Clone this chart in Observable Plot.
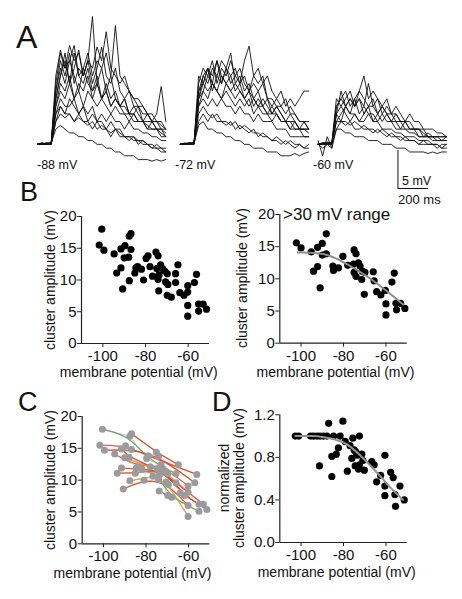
<!DOCTYPE html>
<html><head><meta charset="utf-8">
<script src="https://cdn.jsdelivr.net/npm/d3@7"></script>
<script src="https://cdn.jsdelivr.net/npm/@observablehq/plot@0.6"></script>
<style>
body{margin:0;background:#fff;}
#fig{position:relative;width:462px;height:599px;overflow:hidden;background:#fff;font-family:"Liberation Sans",Arial,sans-serif;color:#111;}
</style></head>
<body><div id="fig"></div>
<script>
// ---------- DATA ----------
// Panel A: sample times (ms) and membrane traces (mV above baseline)
const traceTimes = [0,30,60,90,120,150,180,210,240,270,300,330,360,390,420,450,480,510,540,570,600,630,660,690,720,750,780,810,840];
const tracesNeg88 = [
 [0,0.2,0,0.3,7,11,9,12,8,10,9,11,16.8,8,10,7,9,6,5,6,4,4,3,3,2.5,2,2,1.5,1],
 [0,0.1,0.2,0.1,9,12.4,10,11,13,9,10,12,9,11,10,12,9,15.6,9,8,7,6,6,5,4,3,3,2.5,2],
 [0,0,0.1,0.2,6,9,12,8,10,12.4,9,11,8,10,12.8,9,8,10,7,6,7,5,5,4,4,3,3,2,2],
 [0,0.1,0,0.2,5,8,7,9,6,8,7,9,6,8,6,7,5,6,5,5,4,4,5,3,4,3,4,7.6,3],
 [0,0,0.1,0,5,7,6,8,6,7,5,7,6,5,6,5,4,5,4,4,3,4,3,3,2,3,2,2,1.5],
 [0,0.2,0,0.1,4,6,5,5,6,4,5,4,5,3,4,3,4,3,3,2,3,2,2,1.5,1.5,1,1,0.5,0.5],
 [0,0,0.1,0.1,3,4,3.5,4,3,3.5,3,2.5,3,2,2.5,2,1.5,2,1.5,1,1,0.5,0.5,0,0,-0.5,-0.5,-1,-1],
 [0,0.1,0,0.2,2,2.5,2,1.5,1.5,1,1,0.5,0.5,0,0,-0.5,-0.5,-1,-1,-1.5,-1.5,-1.5,-2,-2,-2,-2.2,-2,-2.2,-2],
 [0,0,0.2,0.1,7,10,8,11,9,7,10,8,7,9,6,8,6,7,5,6,4,5,4,3,3,3,2,2,1],
 [0,0.1,0,0.2,6,9,11,8,12,9,8,10,7,8,6,7,5,6,5,4,4,3,3,3,2,2,2,1,1],
 [0,0,0.1,0,4,5,4,6,5,4,5,3,4,3,3,2,3,2,2,1,1,1,0.5,0.5,0,0,-0.5,-0.5,-1],
 [0,0.1,0.1,0,8,12,10,13,11,12,9,11,10,12.8,11,14.8,10,9,8,9,7,6,5,5,4,4,3,3,2],
 [0,0,0.1,0.1,3,5,4,4,3,4,3,3,2,3,2,2,1,2,1,1,0.5,1,0,0.5,0,-0.5,0,-0.5,-0.5]
];
const tracesNeg72 = [
 [0,0.1,0.2,0.1,7,9,8,10,9,11,10,9,10,8,11,12.9,9,10,8,9,7,6,7,5,6,5,6,7,7],
 [0,0,0.1,0.2,8,10,9,11,8,10,9,11,9,8,9,7,8,7,8,6,6,5,5,4,5,4,3,3,3],
 [0,0.2,0,0.1,6,8,7,8,7,6,8,7,6,7,6,5,6,5,5,4,4,4,3,3,2,3,2,2,2],
 [0,0.1,0.1,0,5,6,5,6,5,6,5,5,4,5,4,4,3,4,3,3,3,2,2,2,1,1,1,1,1],
 [0,0,0.2,0.1,4,5,4,3.5,4,3,3,2.5,3,2,2.5,2,1.5,1.5,1,1,0.5,0.5,0,0.5,0,-0.5,0,-0.5,-0.5],
 [0,0.1,0,0.1,2.5,3,2,2,1.5,1.5,1,1,0.5,0.5,0,0,-0.5,-0.5,-0.5,-1,-1,-1,-1.5,-1.5,-1.5,-1.2,-1.5,-1.2,-1],
 [0,0,0.1,0.2,7,8,10,9,11,8,10,8,9,10,8,7,9,8,9,6,5,6,5,6,4,4,3,3,2],
 [0,0.1,0.1,0,5,7,6,8,7,6,7,6,5,6,5,6,4,5,4,4,3,4,3,3,2,2,2,1,1],
 [0,0.1,0.1,0.2,6,9,10,8,11,9,8,9,7,8,6,7,5,6,5,4,5,4,3,3,3,2,2,2,1.5],
 [0,0.1,0.2,0.1,9,8,10,7,9,8,10,12,8,9,7,8,6,7,5,6,4,5,4,3,4,3,2,2,2],
 [0,0,0.1,0.1,3,4,3,4,3,3,2.5,3,2,2.5,2,1.5,2,1,1.5,1,0.5,1,0.5,0,0.5,0,0,-0.5,0],
 [0,0.1,0,0.1,6,7,9,8,7,9,8,7,8,7,6,7,6,5,6,5,4,5,4,3,3,3,2,3,2]
];
const tracesNeg60 = [
 [0,0.2,0.3,0.2,5,6,7,5,6,7,9,6,7,6,5,6,4,5,4,3,4,3,3,2,2,2,1.5,1.5,1],
 [0,0.1,0,0.2,4,7,5,6,5,6,5,8,5,6,4,5,4,4,3,3,3,2,2,2,1,1,1,1,1],
 [0,0,0.2,0.1,3,4,5,4,4,3,4,5,3,4,3,4,3,3,2,3,2,2,1,1,1,1,0.5,0.5,0.5],
 [0,0.1,0.1,0,3,3,3,2.5,3,2.5,2,2,2,1.5,2,1.5,1,1,1,0.5,0.5,0.5,0,0,0,0,-0.5,0,0],
 [0,-0.5,0,-0.5,2,2,1.5,1.5,1,1,1,0.5,0.5,0.5,0,0,0,-0.5,-0.5,-0.5,-1,-1,-1,-1,-1.2,-1,-1.2,-1,-1],
 [0,0,0.1,0.1,6,5,6,7,5,6,4,5,6,4,5,4,4,3,3,3,2,2,2,1.5,1,1,1,1,1],
 [0.5,-1.5,1,-0.5,4,5,4,3,4,3,3,4,3,3,2,2,2,1.5,1.5,1,1,1,0.5,0.5,0.5,0,0,-0.5,-0.5],
 [0,0.2,0,0.1,4,3,5,4,6,4,5,4,4,3,4,3,3,2,2,2,1.5,1.5,1,1,1,0.5,0.5,0.5,0.5],
 [0,0,0.2,0,5,6,5,6,5,7,6,5,5,4,5,4,3,4,3,2,2,2,2,1,1.5,1,1,0.5,1],
 [0,0.1,0,0.1,2,3,2.5,3,2,2,2.5,2,1.5,2,1.5,1,1.5,1,0.5,1,0.5,0.5,0,0.5,0,0,0,-0.5,0]
];
const holdingLabels = ["-88 mV","-72 mV","-60 mV"];

// Panel B (left) and C: all cells
const vmAll  = [-100.5,-101.7,-99.5,-94.7,-91.5,-89.6,-87.6,-86.8,-86.8,-90,-87.9,-91.5,-93.5,-90.7,-87.6,-84.5,-83.7,-85,-81.9,-80.9,-79.7,-78.8,-77.9,-76.7,-75.1,-74.1,-74.7,-73.7,-74.1,-72.9,-72,-71,-69.8,-70.6,-69.5,-73.8,-69.8,-67.9,-65.9,-64.8,-65.9,-63.9,-62,-60.2,-60.2,-57.1,-56.1,-60.2,-60.2,-55.1,-53,-55.1,-51.4];
const ampAll = [18.0,15.5,14.7,14.1,14.9,15.4,16.9,17.3,14.8,13.5,13.6,11.9,11.1,8.6,9.9,11.9,12.1,11.1,11.7,10.0,13.4,13.8,12.1,10.6,14.4,13.8,11.8,10.8,10.1,12.4,11.8,11.4,11.0,9.7,9.3,8.3,7.6,7.3,11.0,12.4,9.6,8.0,7.6,8.1,9.1,9.6,10.9,6.0,4.3,6.2,6.2,5.1,5.4];
const cellAll = [4,2,3,5,7,2,4,1,3,6,7,9,8,10,11,12,5,8,9,10,4,2,6,11,1,3,7,12,11,5,8,9,6,10,11,13,12,13,4,1,7,8,9,6,5,3,2,10,11,9,7,12,8];

// Panel B (right): cells with >30 mV range, and fitted curve
const vmRange  = [-102.2,-100,-95.2,-92.2,-90,-88.1,-90,-88.1,-92.2,-94.1,-91,-85,-84.7,-82.4,-80.3,-78,-75,-74.1,-75.3,-73,-72.2,-75,-74.1,-71.1,-69.9,-71.4,-66,-65.6,-70.2,-64.4,-62.4,-60.3,-56.1,-57.2,-60,-60,-55.3,-53.1,-55,-51.1];
const ampRange = [15.6,14.8,14.2,14.9,15.5,17.0,13.7,13.9,11.9,11.2,8.6,12.0,11.3,11.7,13.5,12.1,14.5,13.9,12.3,12.5,12.0,11.0,10.4,11.2,11.0,9.9,11.1,9.7,7.6,8.0,7.5,8.2,10.9,9.5,6.1,4.4,6.2,6.2,5.2,5.4];
const fitRangeVm  = [-101.6,-89.4,-78.4,-69,-59.7,-51.9];
const fitRangeAmp = [14.1,13.85,12.3,10.4,8.1,6.0];

// Panel D: normalized amplitudes and fitted curve
const vmNorm  = [-102.7,-101.1,-95.5,-94.1,-92.5,-91,-89.4,-87.8,-84.7,-81.6,-87,-80.3,-79.2,-76.9,-75.6,-72.5,-82.4,-83.4,-85.5,-91.3,-85.5,-78.2,-75,-74.1,-76.1,-73.5,-71.4,-70.9,-74.5,-73,-70.2,-72.5,-66.7,-65.6,-60.5,-62.5,-64.4,-60.5,-60.5,-57.8,-56.6,-53.4,-55.8,-55.5,-51.4];
const ampNorm = [1,1,1,1,1,1,1,1,1,1,1.12,1.14,0.95,0.91,0.98,1.0,0.89,0.83,0.81,0.72,0.62,0.67,0.87,0.85,0.79,0.82,0.83,0.77,0.72,0.69,0.68,0.73,0.76,0.73,0.82,0.63,0.57,0.53,0.44,0.66,0.61,0.53,0.45,0.34,0.40];
const fitNormVm  = [-102.7,-95,-89.4,-80,-72.2,-64.4,-58.1,-51.9];
const fitNormAmp = [1.0,1.0,0.99,0.94,0.82,0.66,0.52,0.40];

const vmTicks = [-100,-80,-60];
const ampTicks = [0,5,10,15,20];
const normTicks = [0,0.4,0.8,1.2];

// ---------- HELPERS ----------
const fig = document.getElementById("fig");
const FONT = '"Liberation Sans", Arial, sans-serif';
function text(str, x, baseline, size, anchor = "start") {
  const d = document.createElement("div");
  d.textContent = str;
  d.style.cssText = `position:absolute;font-size:${size}px;line-height:${size}px;white-space:nowrap;`;
  d.style.top = (baseline - 0.8465 * size) + "px";
  if (anchor === "middle") { d.style.left = (x - 200) + "px"; d.style.width = "400px"; d.style.textAlign = "center"; }
  else d.style.left = x + "px";
  fig.appendChild(d);
}
function vtext(str, baselineX, cy, size) {
  const d = document.createElement("div");
  d.textContent = str;
  d.style.cssText = `position:absolute;font-size:${size}px;line-height:${size}px;white-space:nowrap;width:300px;text-align:center;transform:rotate(-90deg);`;
  const cx = baselineX - 0.3465 * size;
  d.style.left = (cx - 150) + "px";
  d.style.top = (cy - size / 2) + "px";
  fig.appendChild(d);
}
function place(svg, left, top) {
  svg.style.position = "absolute";
  svg.style.left = left + "px";
  svg.style.top = top + "px";
  fig.appendChild(svg);
}
const zip = (xs, ys, extra) => xs.map((x, i) => Object.assign({x, y: ys[i]}, extra ? extra(i) : {}));

function panel({left, top, width, height, mL, mR, mT, mB, yDomain, yTicks, yFmt, marks}) {
  const svg = Plot.plot({
    width, height, marginLeft: mL, marginRight: mR, marginTop: mT, marginBottom: mB,
    style: {fontSize: "15px", fontFamily: FONT, color: "#111", background: "transparent", overflow: "visible"},
    x: {domain: [-110, -50]},
    y: {domain: yDomain},
    color: {type: "identity"},
    marks: [
      Plot.ruleX([-110], {y1: yDomain[0], y2: yDomain[1], stroke: "#222", strokeWidth: 1.2}),
      Plot.ruleY([yDomain[0]], {x1: -110, x2: -50, stroke: "#222", strokeWidth: 1.2}),
      Plot.axisY({ticks: yTicks, tickSize: 4, tickPadding: 1, tickFormat: yFmt, label: null, stroke: "#222"}),
      Plot.axisX({ticks: vmTicks, tickSize: 4, tickPadding: 3, tickFormat: d => String(d), label: null, stroke: "#222"}),
      ...marks
    ]
  });
  place(svg, left, top);
}

// ---------- PANEL A ----------
const groupOffsets = [0, 935, 1837];
const traceRows = [];
[tracesNeg88, tracesNeg72, tracesNeg60].forEach((group, g) => {
  group.forEach((tr, i) => tr.forEach((v, j) => {
    if (j < traceTimes.length) traceRows.push({t: traceTimes[j] + groupOffsets[g], v, id: g + "-" + i});
  }));
});
const barX = 2360, barTop = -0.8, barMv = 5, barMs = 200;
const svgA = Plot.plot({
  width: 462, height: 200, margin: 0,
  style: {background: "transparent", overflow: "visible"},
  x: {domain: [0, 2560], range: [37, 428], axis: null},
  y: {domain: [-5.8, 16.8], range: [188, 16], axis: null},
  marks: [
    Plot.line(traceRows, {x: "t", y: "v", z: "id", stroke: "#111", strokeWidth: 1, strokeOpacity: 0.9}),
    Plot.ruleX([barX], {y1: barTop, y2: barTop - barMv, stroke: "#111", strokeWidth: 1}),
    Plot.ruleY([barTop - barMv], {x1: barX, x2: barX + barMs, stroke: "#111", strokeWidth: 1})
  ]
});
place(svgA, 0, 0);

// ---------- PANEL B ----------
const allRows = zip(vmAll, ampAll, i => ({cell: cellAll[i]}));
panel({left: 0, top: 200, width: 230, height: 185, mL: 81, mR: 21, mT: 16, mB: 42,
  yDomain: [0, 20], yTicks: ampTicks, yFmt: d => String(d),
  marks: [Plot.dot(allRows, {x: "x", y: "y", r: 3.6, fill: "#000"})]});

panel({left: 230, top: 200, width: 232, height: 185, mL: 49.3, mR: 55.3, mT: 14, mB: 42.3,
  yDomain: [0, 20], yTicks: ampTicks, yFmt: d => String(d),
  marks: [
    Plot.dot(zip(vmRange, ampRange), {x: "x", y: "y", r: 3.6, fill: "#000"}),
    Plot.line(zip(fitRangeVm, fitRangeAmp), {x: "x", y: "y", curve: "natural", stroke: "#8c8c8c", strokeWidth: 2})
  ]});

// ---------- PANEL C ----------
const cellColors = {1: "#e3462a", 2: "#e5502c", 3: "#e24a28", 4: "#6aa35a", 5: "#e65a2e", 6: "#ef9a3c",
  7: "#e3482a", 8: "#e85a30", 9: "#e0442a", 10: "#e6542c", 11: "#f0a040", 12: "#7aaa5a", 13: "#e55530"};
const sortedRows = allRows.slice().sort((a, b) => a.cell - b.cell || a.x - b.x)
  .map(d => Object.assign({}, d, {col: cellColors[d.cell]}));
panel({left: 0, top: 400, width: 230, height: 185, mL: 81.7, mR: 20.7, mT: 16, mB: 41.7,
  yDomain: [0, 20], yTicks: ampTicks, yFmt: d => String(d),
  marks: [
    Plot.line(sortedRows, {x: "x", y: "y", z: "cell", stroke: "#c3cdd6", strokeWidth: 1}),
    Plot.line(sortedRows, {x: "x", y: "y", z: "cell", stroke: "col", curve: "basis", strokeWidth: 1.2}),
    Plot.dot(allRows, {x: "x", y: "y", r: 3.5, fill: "#9b9b9b"})
  ]});

// ---------- PANEL D ----------
panel({left: 230, top: 400, width: 232, height: 185, mL: 49.3, mR: 55.3, mT: 14.3, mB: 43,
  yDomain: [0, 1.2], yTicks: normTicks, yFmt: d3.format(".1f"),
  marks: [
    Plot.dot(zip(vmNorm, ampNorm), {x: "x", y: "y", r: 3.6, fill: "#000"}),
    Plot.line(zip(fitNormVm, fitNormAmp), {x: "x", y: "y", curve: "natural", stroke: "#939393", strokeWidth: 2})
  ]});

// ---------- TEXT ----------
text("A", 16, 48, 32);
text("B", 20, 202, 27);
text("C", 18, 412, 27);
text("D", 212, 412, 27);
text(holdingLabels[0], 37, 170, 12.5);
text(holdingLabels[1], 175, 170, 12.5);
text(holdingLabels[2], 313, 170, 12.5);
text("5 mV", 402, 186, 12.5);
text("200 ms", 398, 204, 13);
text(">30 mV range", 283, 220, 17);
const xl = "membrane potential (mV)", yl = "cluster amplitude (mV)";
text(xl, 138.8, 377, 14, "middle");
text(xl, 335.5, 377, 14, "middle");
text(xl, 132.5, 578, 14, "middle");
text(xl, 336.7, 577, 14, "middle");
vtext(yl, 55, 280, 14);
vtext(yl, 247, 278, 14);
vtext(yl, 55, 480, 14);
vtext("normalized", 229, 478, 14);
vtext(yl, 243.5, 478, 14);
</script></body></html>
